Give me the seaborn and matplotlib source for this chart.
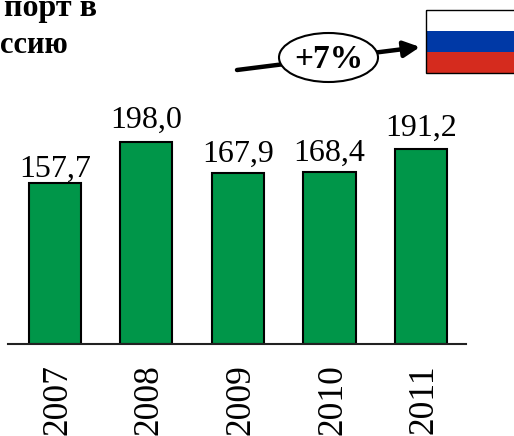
import matplotlib
matplotlib.use("Agg")
import matplotlib.pyplot as plt
from matplotlib.patches import Ellipse, Rectangle
from matplotlib.transforms import ScaledTranslation
import pandas as pd
import seaborn as sns

years = ["2007", "2008", "2009", "2010", "2011"]
values = [157.7, 198.0, 167.9, 168.4, 191.2]
labels = ["157,7", "198,0", "167,9", "168,4", "191,2"]
label_lift = [-0.5, 5, 3, 3, 4.5]
title_lines = ["порт в", "ссию"]
growth = "+7%"

W, H = 514, 436
sns.set_theme(style="white")
plt.rcParams["font.family"] = ["Liberation Serif", "DejaVu Serif"]
fig = plt.figure(figsize=(W / 100, H / 100), dpi=100, facecolor="white")
ax = fig.add_axes([8 / W, 1 - 344 / H, 458 / W, 344 / H])
df = pd.DataFrame({"year": years, "value": values})
sns.barplot(data=df, x="year", y="value", color="#009649", saturation=1, width=0.57,
            edgecolor="black", linewidth=1.5, ax=ax)
ax.set_xlim(-0.51, 4.49)
ax.set_ylim(0, 344 / 1.02)
ax.set_xlabel("")
ax.set_ylabel("")
ax.set_yticks([])
for s in ["top", "left", "right"]:
    ax.spines[s].set_visible(False)
ax.spines["bottom"].set_linewidth(1.5)
ax.spines["bottom"].set_color("#222222")
ax.tick_params(axis="x", length=0, pad=14.5, labelsize=25.5, labelrotation=90, labelcolor="black")
for t in ax.get_xticklabels():
    t.set_transform(t.get_transform() + ScaledTranslation(3 / 100, 0, fig.dpi_scale_trans))
for c, lab, lift in zip(ax.containers[0], labels, label_lift):
    ax.annotate(lab, (c.get_x() + c.get_width() / 2, c.get_height()), xytext=(0, lift),
                textcoords="offset points", ha="center", va="bottom", fontsize=23, color="black")

ov = fig.add_axes([0, 0, 1, 1], facecolor="none")
ov.set_xlim(0, W)
ov.set_ylim(H, 0)
ov.axis("off")
ov.text(4, 16, title_lines[0], fontsize=23, fontweight="bold", color="black", va="baseline", ha="left")
ov.text(0, 53, title_lines[1], fontsize=22, fontweight="bold", color="black", va="baseline", ha="left")
ov.add_patch(Rectangle((425.5, 10.5), 95, 21, fc="white", ec="none"))
ov.add_patch(Rectangle((425.5, 31.5), 95, 21, fc="#0039A6", ec="none"))
ov.add_patch(Rectangle((425.5, 52.5), 95, 21, fc="#D52B1E", ec="none"))
ov.add_patch(Rectangle((425.5, 10.5), 95, 63, fc="none", ec="black", lw=1.0))
ov.annotate("", xy=(420, 47), xytext=(237, 70),
            arrowprops=dict(arrowstyle="-|>,head_width=0.4,head_length=0.8", lw=3.2, color="black",
                            shrinkA=0, shrinkB=0))
ov.add_patch(Ellipse((328.5, 57.5), 99, 49, fc="white", ec="black", lw=1.5, zorder=3))
ov.text(328.5, 59, growth, fontsize=24, fontweight="bold", color="black", ha="center", va="center", zorder=4)
fig.savefig("out.png", dpi=100)
